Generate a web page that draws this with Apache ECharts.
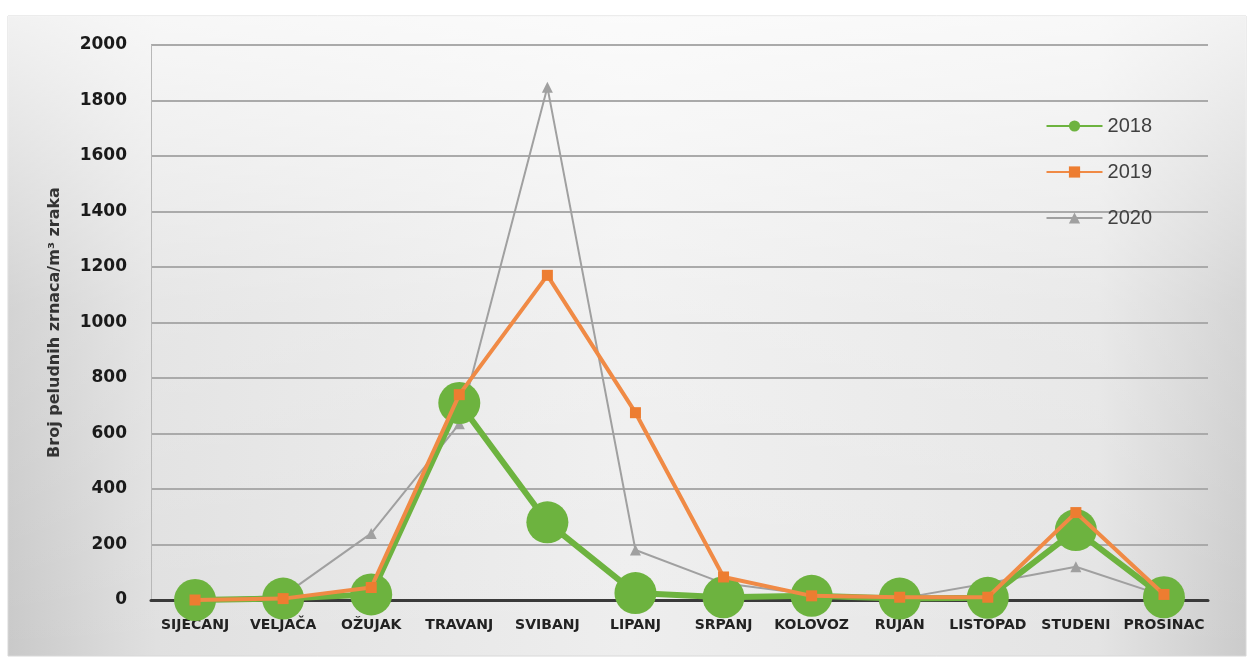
<!DOCTYPE html>
<html>
<head>
<meta charset="utf-8">
<script src="https://cdn.jsdelivr.net/npm/echarts@6/dist/echarts.min.js"></script>
<style>
	html, body { margin: 0; padding: 0; background: #fff; }
	#chart { width: 1254px; height: 664px; }
</style>
</head>
<body>
<div id="chart"></div>
<script>
const months = ['SIJEČANJ', 'VELJAČA', 'OŽUJAK', 'TRAVANJ', 'SVIBANJ', 'LIPANJ', 'SRPANJ', 'KOLOVOZ', 'RUJAN', 'LISTOPAD', 'STUDENI', 'PROSINAC'];
const y2018 = [0, 5, 20, 710, 280, 25, 10, 15, 5, 8, 252, 10];
const y2019 = [0, 5, 45, 740, 1170, 675, 83, 15, 10, 10, 315, 20];
const y2020 = [0, 15, 240, 635, 1848, 180, 60, 20, 5, 60, 120, 15];

const myChart = echarts.init(document.getElementById('chart'));

const option = {
	animation: false,
	graphic: [
		{
			type: 'rect',
			z: -10,
			silent: true,
			shape: { x: 8, y: 16, width: 1238, height: 640 },
			style: {
				fill: new echarts.graphic.LinearGradient(0, 0, 1, 0, [
					{ offset: 0, color: '#c9c9c9' },
					{ offset: 0.12, color: '#e0e0e0' },
					{ offset: 0.5, color: '#eeeeee' },
					{ offset: 0.88, color: '#e4e4e4' },
					{ offset: 1, color: '#cbcbcb' },
				]),
				stroke: '#d8d8d8',
				lineWidth: 1,
			},
		},
		{
			type: 'rect',
			z: -9,
			silent: true,
			shape: { x: 8, y: 16, width: 1238, height: 640 },
			style: {
				fill: new echarts.graphic.LinearGradient(0, 0, 0, 1, [
					{ offset: 0, color: 'rgba(255,255,255,0.75)' },
					{ offset: 0.45, color: 'rgba(255,255,255,0.2)' },
					{ offset: 1, color: 'rgba(255,255,255,0)' },
				]),
			},
		},
	],
	grid: {
		left: 151,
		right: 46,
		top: 45,
		bottom: 64,
	},
	legend: {
		orient: 'vertical',
		right: 97,
		top: 111,
		itemGap: 26,
		itemWidth: 56,
		itemHeight: 14,
		textStyle: { fontSize: 20, color: '#404040', fontFamily: 'Liberation Sans' },
		data: ['2018', '2019', '2020'],
	},
	xAxis: {
		type: 'category',
		data: months,
		axisTick: { show: false },
		axisLine: { lineStyle: { color: '#3a3a3a', width: 3 } },
		axisLabel: {
			color: '#222',
			fontWeight: 'bold',
			fontSize: 14,
			fontFamily: 'DejaVu Sans',
			margin: 18,
			interval: 0,
		},
	},
	yAxis: {
		type: 'value',
		min: 0,
		max: 2000,
		interval: 200,
		name: 'Broj peludnih zrnaca/m³ zraka',
		nameLocation: 'middle',
		nameGap: 88,
		nameTextStyle: { fontSize: 16, fontWeight: 'bold', color: '#333', fontFamily: 'DejaVu Sans' },
		axisLine: { show: true, lineStyle: { color: '#b8b8b8', width: 1 } },
		axisTick: { show: false },
		axisLabel: {
			color: '#1a1a1a',
			fontWeight: 'bold',
			fontSize: 17,
			fontFamily: 'DejaVu Sans',
			margin: 24,
			formatter: (v) => String(v),
		},
		splitLine: { lineStyle: { color: '#aaaaaa', width: 2 } },
	},
	series: [
		{
			name: '2018',
			type: 'line',
			data: y2018,
			z: 3,
			symbol: 'circle',
			symbolSize: 42,
			color: '#6db33f',
			lineStyle: { width: 6, color: '#6db33f' },
			itemStyle: { color: '#6db33f' },
		},
		{
			name: '2019',
			type: 'line',
			data: y2019,
			z: 4,
			symbol: 'rect',
			symbolSize: 11,
			color: '#ed7d31',
			lineStyle: { width: 4, color: '#f08a45' },
			itemStyle: { color: '#ed7d31' },
		},
		{
			name: '2020',
			type: 'line',
			data: y2020,
			z: 2,
			symbol: 'triangle',
			symbolSize: 11,
			color: '#a0a0a0',
			lineStyle: { width: 2, color: '#a0a0a0' },
			itemStyle: { color: '#a0a0a0' },
		},
	],
};

myChart.setOption(option);
</script>
</body>
</html>
